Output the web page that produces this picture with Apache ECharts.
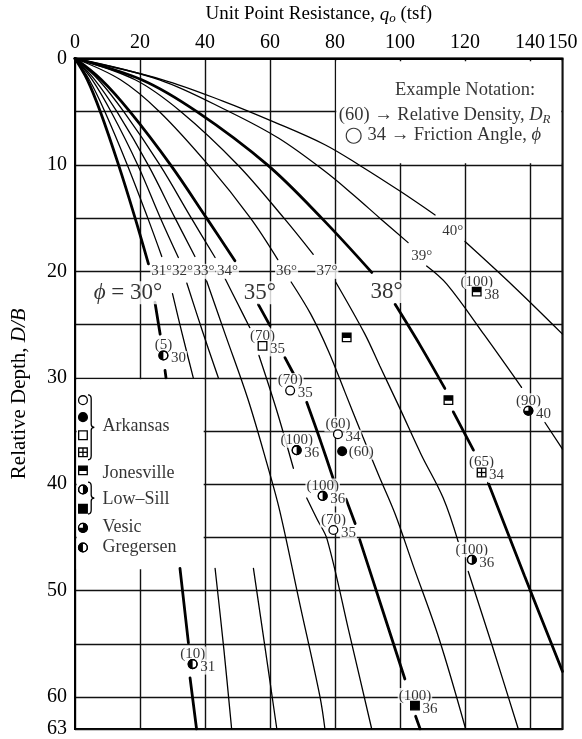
<!DOCTYPE html>
<html><head><meta charset="utf-8">
<script src="https://cdn.jsdelivr.net/npm/echarts@6.0.0/dist/echarts.min.js"></script>
<style>html,body{margin:0;padding:0;background:#fff;}#chart{width:582px;height:739px;}</style>
</head><body><div id="chart"></div>
<script>
// ---------------- data ----------------
const xTickValues = [0, 20, 40, 60, 80, 100, 120, 140, 150];
const yTickValues = [0, 10, 20, 30, 40, 50, 60, 63];

// each curve = list of drawn segments, points are [q (tsf), D/B]
const curve30 = [
  [[0,0],[3.8,2],[7.8,5],[13.4,10],[18.5,15],[22.6,19.3]],
  [[24.6,22.9],[26.2,25.9]],
  [[27.7,29.3],[28,30]],
  [[32.3,47.9],[34.9,54.9]],
  [[35.4,58.2],[37.4,63]]
];
const curve31 = [
  [[0,0],[4.4,2],[9.2,5],[16.1,10],[22.4,15],[26.7,18.6]],
  [[30,22.1],[33,25.9],[36.4,30]],
  [[43.1,47.9],[45.8,55.5],[48.2,63]]
];
const curve32 = [
  [[0,0],[5.3,2],[11.1,5],[19.3,10],[26.3,15],[31.8,18.7]],
  [[34.4,21.1],[39.3,25.7],[44.1,30]],
  [[54.9,47.9],[58.5,55.4],[62.1,63]]
];
const curve33 = [
  [[0,0],[6.1,2],[12.9,5],[22.5,10],[30.8,15],[36.9,18.6]],
  [[40.5,20.9],[46.2,25.9],[53.2,32],[59,38],[63,42.5],[69,51],[75.4,60],[76.9,63]]
];
const curve34 = [
  [[0,0],[7.2,2],[15,5],[26.1,10],[35.8,15],[43.1,18.7]],
  [[46.2,20.7],[50,23],[53.8,25.3]],
  [[56.6,27.9],[62,33],[67.2,38.5]],
  [[71.3,41.3],[74.5,43.3],[77.6,45.2],[84.4,54],[91.3,63]]
];
const curve35 = [
  [[0,0],[8.1,2],[16.9,5],[29.4,10],[40.5,15],[49.2,19]],
  [[56.4,23.1],[60,25.1]],
  [[64.6,28.1],[67.2,29.6]],
  [[71.3,32.3],[75.5,35.9],[79.8,39.8]],
  [[83.4,41.4],[86.2,43.7]],
  [[87.6,45.2],[94.5,51.7],[101.5,58.3]],
  [[104.8,61.8],[106.2,63]]
];
const curve36 = [
  [[0,0],[14,2],[26,5],[41,10],[54,15],[62.4,18.9]],
  [[66.5,21],[72.5,24],[78,27.5],[83,31.3],[88.5,35.5],[93.5,39.2],[98.5,42.8],[104,47.6],[112,54.5],[120.2,63]]
];
const curve37 = [
  [[0,0],[18.5,2],[32.6,5],[50.1,10],[64.3,15],[73.3,18.4]],
  [[80.2,21],[89.2,25.9],[93.8,28.9],[100,32.9],[106.5,37.2],[113.3,41.3],[117.9,45.4]],
  [[121,48.2],[128.5,55.3],[136.4,63]]
];
const curve38 = [
  [[0,0],[20.5,2],[37.5,5],[59.2,10],[75.9,15],[91.3,20.1]],
  [[98.5,23.1],[106.3,27],[113.8,31]],
  [[116.4,33.2],[122.6,36.8]],
  [[127.2,39.9],[138.3,48.6],[150,57.6]]
];
const curve39 = [
  [[0,0],[26,2],[47.5,5],[62.7,7.5],[76.9,10.6],[85.6,12.8],[93.8,15],[102.5,17.3]],
  [[108.2,19.5],[114.4,21.2],[126,26],[137.4,30.9]],
  [[144.6,34.2],[150,36.7]]
];
const curve40 = [
  [[0,0],[27,2],[45.5,4],[61.5,6],[76.9,8.1],[87.4,10],[100.2,12.5],[110.8,14.7]],
  [[120,17.2],[134.9,21.4],[150,25.9]]
];
const curveAngles = [30,31,32,33,34,35,36,37,38,39,40];
const curveList = [curve30,curve31,curve32,curve33,curve34,curve35,curve36,curve37,curve38,curve39,curve40];
const thickCurves = [30,35,38];

// measured points
const ptQ    = [27.2, 57.7, 66.2, 123.6, 83.6, 114.9, 139.5, 80.9, 82.2, 125.1, 68.2, 76.2, 79.5, 122.1, 104.6, 36.2];
const ptD    = [27.9, 27.0, 31.2, 21.9, 26.2, 32.1, 33.1, 35.3, 36.9, 38.9, 36.8, 41.1, 44.3, 47.1, 60.8, 56.9];
const ptDR   = ['(5)','(70)','(70)','(100)','','','(90)','(60)','(60)','(65)','(100)','(100)','(70)','(100)','(100)','(10)'];
const ptPhi  = ['30','35','35','38','','','40','34','','34','36','36','35','36','36','31'];
const ptKind = ['gh','os','oc','js','js','js','vs','oc','fc','xs','lh','lh','oc','lh','fs','gh'];

// curve labels
const smallLblText = ['31°','32°','33°','34°','36°','37°','39°','40°'];
const smallLblQ    = [26.7, 33.1, 39.7, 46.9, 65.1, 77.5, 106.7, 116.2];
const smallLblD    = [20.0, 20.0, 20.0, 20.0, 20.0, 20.0, 18.6, 16.2];
const bigLblText = ['{p|ϕ} = 30°', '35°', '38°'];
const bigLblQ    = [16.3, 56.9, 95.9];
const bigLblD    = [22.0, 22.0, 21.9];

// legend (source key)
const legKinds = ['oc','fc','os','xs','js','lh','fs','vs','gh'];
const legKindD = [32.1, 33.7, 35.4, 37.0, 38.7, 40.5, 42.3, 44.1, 45.95];
const legNames = ['Arkansas','Jonesville','Low–Sill','Vesic','Gregersen'];
const legNameD = [34.6, 39.0, 41.4, 44.0, 45.9];
const braceSpans = [[31.6, 37.7], [39.8, 42.8]];

// notation box text
const noteText = ['Example Notation:', '(60) → Relative Density, {i|D}{sub|R}', '{c|○} 34 → Friction Angle, {i|ϕ}'];
const noteQ = [98.3, 81.0, 82.8];
const noteD = [2.95, 5.29, 7.23];

// ---------------- chart ----------------
const SERIF = "'Liberation Serif','DejaVu Serif',serif";
const symKinds = ['oc','fc','os','xs','js','lh','fs','vs','gh'];
const chart = echarts.init(document.getElementById('chart'), null, {renderer: 'canvas'});

function renderSym(params, api) {
  const p = api.coord([api.value(0), api.value(1)]);
  const k = symKinds[api.value(2)];
  const x = p[0], y = p[1], r = 4.4, s = 4.3;
  const ln = {stroke: '#000', lineWidth: 1.3};
  const W = '#fff', B = '#000';
  const circ = (fill) => ({type: 'circle', shape: {cx: x, cy: y, r: r}, style: Object.assign({fill: fill}, ln)});
  const sq = (fill) => ({type: 'rect', shape: {x: x - s, y: y - s, width: 2 * s, height: 2 * s}, style: Object.assign({fill: fill}, ln)});
  const sect = (a0, a1, fill) => ({type: 'sector', shape: {cx: x, cy: y, r0: 0, r: r, startAngle: a0, endAngle: a1, clockwise: true}, style: {fill: fill}});
  let ch = [];
  const PI = Math.PI;
  if (k === 'oc') ch = [circ(W)];
  else if (k === 'fc') ch = [circ(B)];
  else if (k === 'os') ch = [sq(W)];
  else if (k === 'fs') ch = [sq(B)];
  else if (k === 'xs') ch = [sq(W),
    {type: 'line', shape: {x1: x - s, y1: y, x2: x + s, y2: y}, style: ln},
    {type: 'line', shape: {x1: x, y1: y - s, x2: x, y2: y + s}, style: ln}];
  else if (k === 'js') ch = [sq(W), {type: 'rect', shape: {x: x - s, y: y - s, width: 2 * s, height: s * 1.15}, style: {fill: B}}];
  else if (k === 'lh') ch = [circ(W), sect(-PI / 2, PI / 2, B), circ(null)];
  else if (k === 'gh') ch = [circ(W), sect(PI / 2, 3 * PI / 2, B), circ(null)];
  else if (k === 'vs') ch = [circ(B), sect(PI, 1.5 * PI, W), circ(null)];
  ch.forEach(c => { if (c.style && c.style.fill === null) c.style.fill = 'none'; });
  return {type: 'group', children: ch};
}

function renderBrace(params, api) {
  const a = api.coord([api.value(0), api.value(1)]);
  const b = api.coord([api.value(0), api.value(2)]);
  const x = a[0], y1 = a[1], y2 = b[1], m = (y1 + y2) / 2, w = 3.2;
  const d = `M${x},${y1} Q${x + w},${y1} ${x + w},${y1 + 4} L${x + w},${m - 3} Q${x + w},${m} ${x + 2 * w},${m} ` +
            `Q${x + w},${m} ${x + w},${m + 3} L${x + w},${y2 - 4} Q${x + w},${y2} ${x},${y2}`;
  return {type: 'path', shape: {pathData: d}, style: {fill: 'none', stroke: '#000', lineWidth: 1.3}};
}

function textSeries(items, label, z) {
  return {
    type: 'scatter', data: items, symbolSize: 1, silent: true, z: z, animation: false,
    itemStyle: {color: 'rgba(0,0,0,0)'},
    label: Object.assign({show: true, color: '#000', fontFamily: SERIF, formatter: '{b}'}, label)
  };
}

const series = [];
// white boxes (notation box, source key) hiding grid lines
series.push({
  type: 'line', data: [], silent: true, z: 1, animation: false,
  markArea: {silent: true, itemStyle: {color: '#fff', opacity: 1},
    data: [[{coord: [0.5, 30.14]}, {coord: [39.6, 48]}], [{coord: [80.4, 0.25]}, {coord: [149.6, 9.85]}]]}
});
curveList.forEach((segs, ci) => {
  const thick = thickCurves.indexOf(curveAngles[ci]) >= 0;
  segs.forEach(seg => series.push({
    type: 'line', data: seg, symbol: 'none', showSymbol: false, smooth: 0.35, silent: true, z: 3, animation: false,
    lineStyle: {color: '#000', width: thick ? 2.8 : 1.3, cap: 'round'}
  }));
});

// point labels: relative density above, friction angle on the right
const drItems = [], phiItems = [];
ptQ.forEach((q, i) => {
  if (ptDR[i]) drItems.push({name: ptDR[i], value: [q, ptD[i]],
    label: ptPhi[i] ? {position: 'top', distance: 2} : {position: 'right', distance: 5, offset: [0, 1]}});
  if (ptPhi[i]) phiItems.push({name: ptPhi[i], value: [q, ptD[i]]});
});
const bgLbl = {backgroundColor: '#fff', padding: [0, 1, 0, 1]};
series.push(textSeries(drItems, Object.assign({fontSize: 15}, bgLbl), 5));
series.push(textSeries(phiItems, Object.assign({fontSize: 15, position: 'right', distance: 6, offset: [0, 3]}, bgLbl), 5));

// curve angle labels
series.push(textSeries(smallLblText.map((t, i) => ({name: t, value: [smallLblQ[i], smallLblD[i]]})),
  Object.assign({fontSize: 15, position: 'inside'}, bgLbl), 5));
series.push(textSeries(bigLblText.map((t, i) => ({name: t, value: [bigLblQ[i], bigLblD[i]]})),
  Object.assign({fontSize: 23, position: 'inside',
    rich: {p: {fontFamily: SERIF, fontStyle: 'italic', fontSize: 23, color: '#000'}}}, bgLbl), 5));

// key names
series.push(textSeries(legNames.map((t, i) => ({name: t, value: [8.3, legNameD[i]]})),
  {fontSize: 18, position: 'right', distance: 0}, 5));

// notation box
series.push(textSeries(noteText.map((t, i) => ({name: t, value: [noteQ[i], noteD[i]]})),
  {fontSize: 18.5, position: 'right', distance: 0,
   rich: {
     i: {fontFamily: SERIF, fontStyle: 'italic', fontSize: 18.5, color: '#000'},
     sub: {fontFamily: SERIF, fontStyle: 'italic', fontSize: 13, color: '#000', padding: [9, 0, 0, 0]},
     c: {fontFamily: "'DejaVu Sans'", fontSize: 21, color: '#000'}
   }}, 5));

// symbols
series.push({
  type: 'custom', renderItem: renderSym, silent: true, z: 6, animation: false,
  data: ptQ.map((q, i) => [q, ptD[i], symKinds.indexOf(ptKind[i])])
    .concat(legKinds.map((k, i) => [2.45, legKindD[i], symKinds.indexOf(k)]))
});
series.push({
  type: 'custom', renderItem: renderBrace, silent: true, z: 6, animation: false,
  data: braceSpans.map(s => [4.0, s[0], s[1]])
});

chart.setOption({
  backgroundColor: '#fff',
  animation: false,
  textStyle: {fontFamily: SERIF},
  grid: {left: 75, top: 58.5, width: 487.5, height: 672.2, show: true, borderColor: '#000', borderWidth: 2},
  xAxis: {
    type: 'value', position: 'top', min: 0, max: 150, interval: 20,
    name: '{n|Unit Point Resistance, }{i|q}{s|o}{n| (tsf)}', nameLocation: 'middle', nameGap: 33,
    nameTextStyle: {rich: {
      n: {fontFamily: SERIF, fontSize: 19, color: '#000'},
      i: {fontFamily: SERIF, fontSize: 19, fontStyle: 'italic', color: '#000'},
      s: {fontFamily: SERIF, fontSize: 13, fontStyle: 'italic', color: '#000', padding: [9, 0, 0, 0]}
    }},
    axisLine: {show: true, lineStyle: {color: '#000', width: 2}},
    axisTick: {show: false},
    axisLabel: {color: '#000', fontFamily: SERIF, fontSize: 20, margin: 6,
      formatter: v => xTickValues.indexOf(v) >= 0 ? String(v) : ''},
    splitLine: {show: true, lineStyle: {color: '#111', width: 1.4}}
  },
  yAxis: {
    type: 'value', inverse: true, min: 0, max: 63, interval: 5,
    name: '{n|Relative Depth, }{i|D/B}', nameLocation: 'middle', nameGap: 45,
    nameTextStyle: {rich: {
      n: {fontFamily: SERIF, fontSize: 21, color: '#000'},
      i: {fontFamily: SERIF, fontSize: 21, fontStyle: 'italic', color: '#000'}
    }},
    axisLine: {show: true, lineStyle: {color: '#000', width: 2}},
    axisTick: {show: false},
    axisLabel: {color: '#000', fontFamily: SERIF, fontSize: 20, margin: 8,
      formatter: v => yTickValues.indexOf(v) >= 0 ? String(v) : ''},
    splitLine: {show: true, lineStyle: {color: '#111', width: 1.4}}
  },
  series: series
});
</script>
</body></html>
